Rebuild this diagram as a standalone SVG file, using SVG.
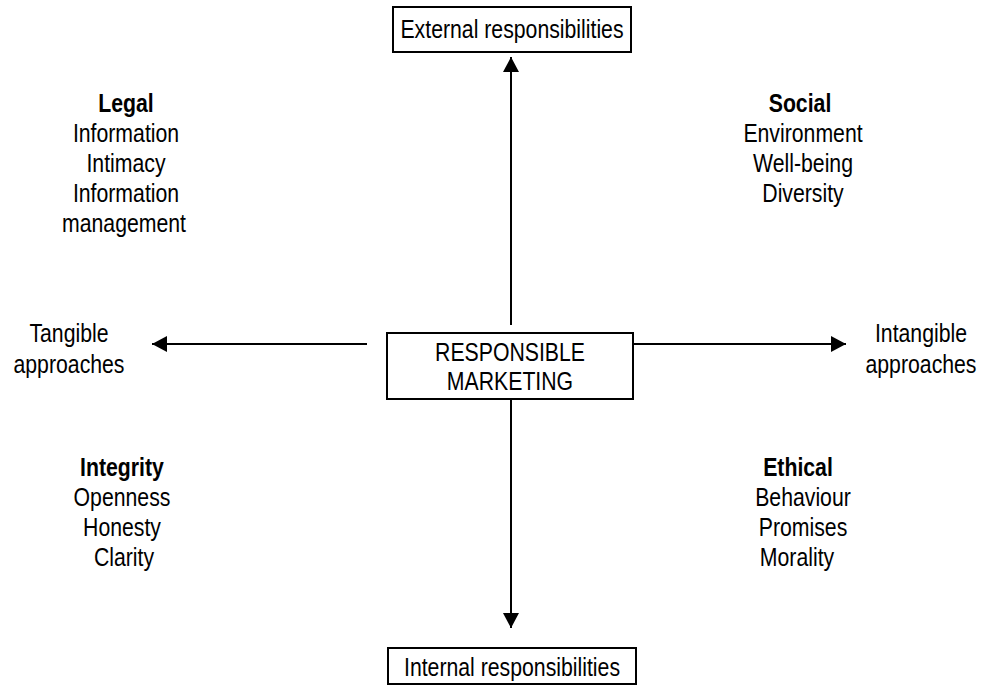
<svg xmlns="http://www.w3.org/2000/svg" width="982" height="688" viewBox="0 0 982 688">
<style>
text{font-family:"Liberation Sans",Arial,sans-serif;font-size:25px;fill:#000;text-anchor:middle}
.b{font-weight:bold}
.box{fill:#fff;stroke:#000;stroke-width:2}
.ln{stroke:#000;stroke-width:2;fill:none}
</style>
<defs>
<marker id="ah" markerUnits="userSpaceOnUse" markerWidth="16" markerHeight="16" refX="15" refY="8" orient="auto">
<path d="M0,0 L15,8 L0,16 Z" fill="#000"/>
</marker>
</defs>
<g id="connectors">
<line class="ln" x1="511" y1="325" x2="511" y2="57" marker-end="url(#ah)"/>
<line class="ln" x1="511" y1="399" x2="511" y2="628" marker-end="url(#ah)"/>
<line class="ln" x1="367" y1="344" x2="152" y2="344" marker-end="url(#ah)"/>
<line class="ln" x1="633" y1="344" x2="846" y2="344" marker-end="url(#ah)"/>
</g>
<g id="external">
<rect class="box" x="393" y="7" width="238" height="45"/>
<text transform="translate(512,38) scale(0.85,1)">External responsibilities</text>
</g>
<g id="center">
<rect class="box" x="387" y="333" width="246" height="66"/>
<text transform="translate(510,361) scale(0.85,1)">RESPONSIBLE</text>
<text transform="translate(510,390) scale(0.85,1)">MARKETING</text>
</g>
<g id="internal">
<rect class="box" x="388" y="648" width="248" height="36"/>
<text transform="translate(512,676) scale(0.85,1)">Internal responsibilities</text>
</g>
<g id="tangible">
<text transform="translate(69,342) scale(0.85,1)">Tangible</text>
<text transform="translate(69,373) scale(0.85,1)">approaches</text>
</g>
<g id="intangible">
<text transform="translate(921,342) scale(0.85,1)">Intangible</text>
<text transform="translate(921,373) scale(0.85,1)">approaches</text>
</g>
<g id="legal">
<text class="b" transform="translate(126,112) scale(0.85,1)">Legal</text>
<text transform="translate(126,142) scale(0.85,1)">Information</text>
<text transform="translate(126,172) scale(0.85,1)">Intimacy</text>
<text transform="translate(126,202) scale(0.85,1)">Information</text>
<text transform="translate(124,232) scale(0.85,1)">management</text>
</g>
<g id="social">
<text class="b" transform="translate(800,112) scale(0.85,1)">Social</text>
<text transform="translate(803,142) scale(0.85,1)">Environment</text>
<text transform="translate(803,172) scale(0.85,1)">Well-being</text>
<text transform="translate(803,202) scale(0.85,1)">Diversity</text>
</g>
<g id="integrity">
<text class="b" transform="translate(122,476) scale(0.85,1)">Integrity</text>
<text transform="translate(122,506) scale(0.85,1)">Openness</text>
<text transform="translate(122,536) scale(0.85,1)">Honesty</text>
<text transform="translate(124,566) scale(0.85,1)">Clarity</text>
</g>
<g id="ethical">
<text class="b" transform="translate(798,476) scale(0.85,1)">Ethical</text>
<text transform="translate(803,506) scale(0.85,1)">Behaviour</text>
<text transform="translate(803,536) scale(0.85,1)">Promises</text>
<text transform="translate(797,566) scale(0.85,1)">Morality</text>
</g>
</svg>
